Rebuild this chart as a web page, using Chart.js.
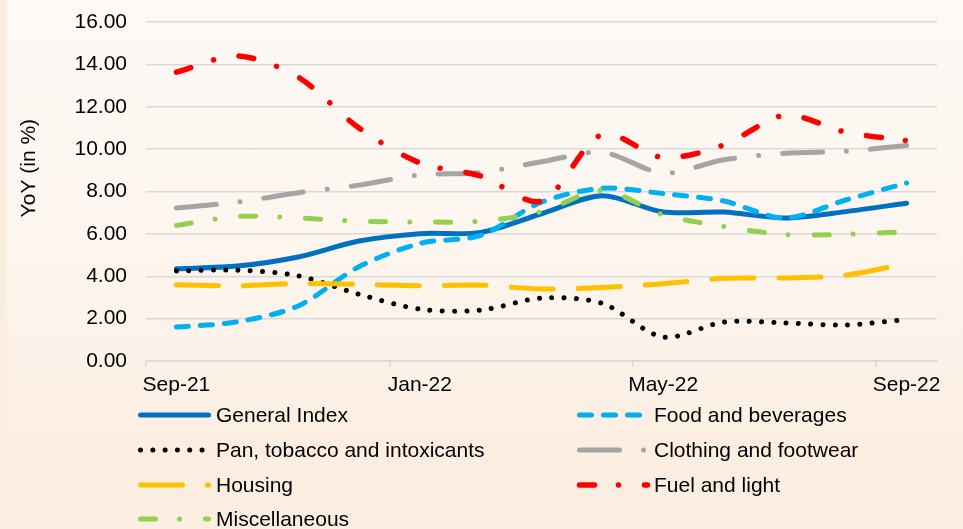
<!DOCTYPE html>
<html>
<head>
<meta charset="utf-8">
<script src="https://cdn.jsdelivr.net/npm/chart.js@4.4.0/dist/chart.umd.min.js"></script>
<style>
  html, body { margin: 0; padding: 0; background: #fcede1; }
  #fondo {
    position: absolute; left: 7px; top: 0; width: 956px; height: 430px;
    background: linear-gradient(to bottom, #fdf9f5 0%, #fdf6ef 55%, #fcefe4 100%);
  }
  #grafico { position: absolute; left: 0; top: 0; }
  .leyenda-item {
    position: absolute; height: 30px; display: flex; align-items: center;
    font-family: 'Liberation Sans', Arial, sans-serif; font-size: 21px; color: #000;
    white-space: nowrap;
  }
  .leyenda-item canvas { display: block; }
</style>
</head>
<body>
<div id="fondo"></div>
<canvas id="grafico" width="963" height="529"></canvas>
<div id="leyenda"></div>

<script>
// Datos (variacion interanual, %)
const meses = ['Sep-21','Oct-21','Nov-21','Dec-21','Jan-22','Feb-22','Mar-22',
               'Apr-22','May-22','Jun-22','Jul-22','Aug-22','Sep-22'];
const generalIndex = [4.35, 4.48, 4.91, 5.66, 6.01, 6.07, 6.95, 7.80, 7.03, 7.03, 6.75, 7.05, 7.45];
const foodBeverages = [1.60, 1.85, 2.60, 4.45, 5.55, 5.93, 7.50, 8.15, 7.90, 7.55, 6.75, 7.60, 8.40];
const panTobacco = [4.25, 4.29, 4.02, 3.15, 2.45, 2.40, 2.97, 2.72, 1.13, 1.84, 1.80, 1.70, 1.96];
const clothing = [7.22, 7.50, 7.94, 8.30, 8.78, 8.90, 9.40, 9.85, 8.87, 9.50, 9.80, 9.90, 10.17];
const housing = [3.60, 3.55, 3.66, 3.62, 3.55, 3.58, 3.40, 3.47, 3.65, 3.90, 3.92, 4.05, 4.60];
const fuelLight = [13.63, 14.40, 13.40, 11.00, 9.35, 8.73, 7.55, 10.70, 9.60, 10.20, 11.60, 10.80, 10.40];
const miscellaneous = [6.40, 6.82, 6.75, 6.60, 6.56, 6.60, 7.05, 8.05, 6.90, 6.35, 5.97, 5.98, 6.10];
const etiquetasX = ['Sep-21', 'Jan-22', 'May-22', 'Sep-22'];

const fuente = "'Liberation Sans', Arial, sans-serif";

// Series en el orden de Excel, con su estilo de linea
const series = [
  { label: 'General Index', data: generalIndex, color: '#0070C0', dash: [], ancho: 5 },
  { label: 'Food and beverages', data: foodBeverages, color: '#00B0F0', dash: [12, 12], ancho: 5 },
  { label: 'Pan, tobacco and intoxicants', data: panTobacco, color: '#000000', dash: [0.01, 12.3], ancho: 5 },
  { label: 'Clothing and footwear', data: clothing, color: '#A5A5A5', dash: [40, 24, 0.01, 24], ancho: 5 },
  { label: 'Housing', data: housing, color: '#FFC000', dash: [42, 25], ancho: 5 },
  { label: 'Fuel and light', data: fuelLight, color: '#FF0000', dash: [15, 24, 0.01, 26], ancho: 5.5 },
  { label: 'Miscellaneous', data: miscellaneous, color: '#92D050', dash: [15, 24, 0.01, 26], ancho: 5 }
];

const datasets = series.map((s, i) => ({
  label: s.label,
  data: s.data,
  borderColor: s.color,
  backgroundColor: s.color,
  borderWidth: s.ancho,
  borderDash: s.dash,
  borderCapStyle: 'round',
  borderJoinStyle: 'round',
  pointRadius: 0,
  tension: 0.3,
  fill: false,
  order: -i
}));

new Chart('grafico', {
  type: 'line',
  data: { labels: meses, datasets: datasets },
  options: {
    responsive: false,
    animation: false,
    devicePixelRatio: 1,
    layout: { padding: { left: 0, top: 22, right: 26, bottom: 123 } },
    plugins: { legend: { display: false }, tooltip: { enabled: false } },
    scales: {
      x: {
        type: 'category',
        offset: true,
        grid: {
          offset: true,
          drawOnChartArea: false,
          drawTicks: true,
          tickLength: 6,
          lineWidth: 1.5,
          color: ctx => (ctx.index % 4 === 0 ? '#d9d9d9' : 'rgba(0,0,0,0)')
        },
        border: { display: true, color: '#d9d9d9', width: 1.5 },
        ticks: {
          autoSkip: false,
          maxRotation: 0,
          padding: 6,
          color: '#000',
          font: { family: fuente, size: 21 },
          callback: function (valor, indice) {
            const m = meses[indice];
            return etiquetasX.includes(m) ? m : '';
          }
        },
        afterFit: scale => { scale.height = 45; }
      },
      y: {
        min: 0,
        max: 16,
        ticks: {
          stepSize: 2,
          padding: 9,
          color: '#000',
          font: { family: fuente, size: 21 },
          callback: v => v.toFixed(2)
        },
        // marcas invisibles: solo separan las etiquetas del area
        grid: { color: '#d9d9d9', lineWidth: 1.5, drawTicks: true, tickLength: 10, tickColor: 'rgba(0,0,0,0)' },
        border: { display: false },
        title: {
          display: true,
          text: '\u00a0\u00a0\u00a0\u00a0\u00a0\u00a0\u00a0\u00a0YoY (in %)',
          color: '#000',
          font: { family: fuente, size: 21 },
          padding: { top: 17, bottom: 0 }
        },
        afterFit: scale => { scale.width = 146; }
      }
    }
  }
});

// Leyenda en dos columnas, como en el original
const posiciones = [
  { x: 136, y: 415 }, { x: 575, y: 415 },
  { x: 136, y: 450 }, { x: 575, y: 450 },
  { x: 136, y: 485 }, { x: 575, y: 485 },
  { x: 136, y: 519 }
];
const leyenda = document.getElementById('leyenda');
series.forEach((s, i) => {
  const item = document.createElement('div');
  item.className = 'leyenda-item';
  item.style.left = posiciones[i].x + 'px';
  item.style.top = (posiciones[i].y - 15) + 'px';

  const muestra = document.createElement('canvas');
  muestra.width = 76;
  muestra.height = 12;
  const c = muestra.getContext('2d');
  c.strokeStyle = s.color;
  c.lineWidth = s.ancho;
  c.lineCap = 'round';
  c.setLineDash(s.dash);
  c.beginPath();
  c.moveTo(4.5, 6);
  c.lineTo(72.5, 6);
  c.stroke();

  const texto = document.createElement('span');
  texto.textContent = s.label;
  texto.style.marginLeft = (i % 2 === 0 ? 4 : 3) + 'px';

  item.appendChild(muestra);
  item.appendChild(texto);
  leyenda.appendChild(item);
});
</script>
</body>
</html>
